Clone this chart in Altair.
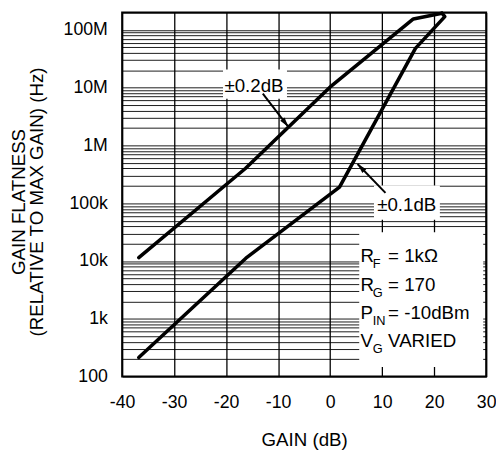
import altair as alt
import pandas as pd

# ---- data ----
# ±0.2dB flatness curve (gain dB, frequency Hz)
gain_02 = [-36.8, -16.3, 0.2, 16.0, 21.5]
freq_02 = [11.5e3, 400e3, 10.7e6, 155e6, 195e6]
# ±0.1dB flatness curve (gain dB, frequency Hz)
gain_01 = [-36.8, -16.2, 1.8, 16.4, 22.05, 21.5]
freq_01 = [214, 11.2e3, 190e3, 48e6, 170e6, 195e6]

x_ticks = [-40, -30, -20, -10, 0, 10, 20, 30]
y_decades = [100, 1000, 10000, 100000, 1000000, 10000000, 100000000]
y_decade_labels = ["100", "1k", "10k", "100k", "1M", "10M", "100M"]
y_grid = [m * d for d in y_decades for m in range(1, 10)] + [200000000]

# annotations
ann_text = ["±0.2dB", "±0.1dB"]
ann_gain = [-14.65, 14.73]
ann_freq = [10.7e6, 94.6e3]
# white label boxes (gain1, gain2, freq1, freq2)
box_g1 = [-20.6, 8.43, 5.59]
box_g2 = [-8.3, 21.1, 29.43]
box_f1 = [20.7e6, 204e3, 31.5e3]
box_f2 = [6.46e6, 52e3, 146]
# arrows: start -> tip
arr_g1 = [-12.95, 10.64]
arr_f1 = [7.9e6, 151e3]
arr_g2 = [-8.03, 5.27]
arr_f2 = [2.1e6, 479e3]
arr_angle = [142.6, 316.6]

# conditions legend
leg_main = ["R", "R", "P", "V"]
leg_sub = ["F", "G", "IN", "G"]
leg_rest = ["= 1kΩ", "= 170", "= -10dBm", "VARIED"]
leg_freq = [12.4e3, 3.83e3, 1.26e3, 418]
leg_gain = 5.84

FONT = "Liberation Sans"

xs = alt.Scale(domain=[-40, 30], nice=False, zero=False)
ys = alt.Scale(type="log", domain=[100, 200000000], nice=False)

label_expr = " : ".join(
    f"datum.value == {v} ? '{l}'" for v, l in zip(y_decades, y_decade_labels)
) + " : ''"

x_axis = alt.Axis(
    values=x_ticks, grid=True, gridColor="black", gridWidth=1.3, gridOpacity=1,
    ticks=False, tickSize=0, domain=False, labelFlush=False,
    labelExpr="'' + datum.value",
    labelFontSize=18, labelColor="black", labelBaseline="middle", labelPadding=26,
    title="GAIN (dB)", titleFontSize=19, titleFontWeight="normal", titleColor="black",
    titleBaseline="middle", titleY=64,
)
y_axis = alt.Axis(
    values=y_grid, grid=True, gridColor="black", gridWidth=1, gridOpacity=0.9,
    ticks=False, tickSize=0, domain=False, labelFlush=False, labelOverlap=False,
    labelExpr=label_expr, labelFontSize=18, labelColor="black", labelAlign="right",
    labelBaseline="middle", labelPadding=15, labelOffset=0,
    title=["GAIN FLATNESS", "(RELATIVE TO MAX GAIN) (Hz)"], titleFontSize=19,
    titleFontWeight="normal", titleColor="black", titleAngle=270, titleAlign="center",
    titleBaseline="middle", titleX=-105, titleY=192, titleLineHeight=18,
)

df_lines = pd.DataFrame({
    "gain": gain_02 + gain_01,
    "freq": freq_02 + freq_01,
    "curve": ["0.2"] * len(gain_02) + ["0.1"] * len(gain_01),
    "ord": list(range(len(gain_02))) + list(range(len(gain_01))),
})
df_box = pd.DataFrame({"g1": box_g1, "g2": box_g2, "f1": box_f1, "f2": box_f2})
df_ann = pd.DataFrame({"t": ann_text, "g": ann_gain, "f": ann_freq})
df_arr = pd.DataFrame({"g1": arr_g1, "f1": arr_f1, "g2": arr_g2, "f2": arr_f2, "a": arr_angle})
df_leg = pd.DataFrame({"m": leg_main, "s": leg_sub, "r": leg_rest, "f": leg_freq,
                       "g": [leg_gain] * len(leg_main)})


def X(field):
    return alt.X(field, scale=xs, axis=x_axis)


def Y(field):
    return alt.Y(field, scale=ys, axis=y_axis)


lines = alt.Chart(df_lines).mark_line(
    color="black", strokeWidth=3.6, strokeJoin="round", strokeCap="round"
).encode(
    x=X("gain:Q"), y=Y("freq:Q"), detail="curve:N", order="ord:Q",
)

boxes = alt.Chart(df_box).mark_rect(color="white").encode(
    x=X("g1:Q"), x2="g2:Q", y=Y("f1:Q"), y2="f2:Q",
)

ann = alt.Chart(df_ann).mark_text(fontSize=19, font=FONT, color="black",
                                  align="center", baseline="middle").encode(
    x=X("g:Q"), y=Y("f:Q"), text="t:N"
)

arrow_lines = alt.Chart(df_arr).mark_rule(color="black", strokeWidth=2).encode(
    x=X("g1:Q"), x2="g2:Q", y=Y("f1:Q"), y2="f2:Q",
)
arrow_heads = alt.Chart(df_arr).mark_point(
    shape="M0,0L0.55,2L-0.55,2Z", filled=True, size=100, color="black", opacity=1, strokeWidth=0
).encode(
    x=X("g2:Q"), y=Y("f2:Q"), angle=alt.Angle("a:Q", scale=None),
)

leg_m = alt.Chart(df_leg).mark_text(fontSize=19, font=FONT, color="black",
                                    align="left", baseline="middle").encode(
    x=X("g:Q"), y=Y("f:Q"), text="m:N"
)
leg_s = alt.Chart(df_leg).mark_text(fontSize=13, font=FONT, color="black",
                                    align="left", baseline="middle", dx=12.5, dy=8.5).encode(
    x=X("g:Q"), y=Y("f:Q"), text="s:N"
)
leg_r = alt.Chart(df_leg).mark_text(fontSize=19, font=FONT, color="black",
                                    align="left", baseline="middle", dx=28).encode(
    x=X("g:Q"), y=Y("f:Q"), text="r:N"
)

chart = alt.layer(
    lines, boxes, ann, arrow_lines, arrow_heads, leg_m, leg_s, leg_r
).properties(
    width=370, height=370,
    background="white",
    autosize=alt.AutoSizeParams(type="none"),
    padding={"left": 116, "top": 1, "right": 10, "bottom": 72},
).configure_view(
    stroke="black", strokeWidth=2
).configure_axis(
    labelFont=FONT, titleFont=FONT
)

chart.save("out.html", embed_options={"renderer": "svg", "actions": False})
